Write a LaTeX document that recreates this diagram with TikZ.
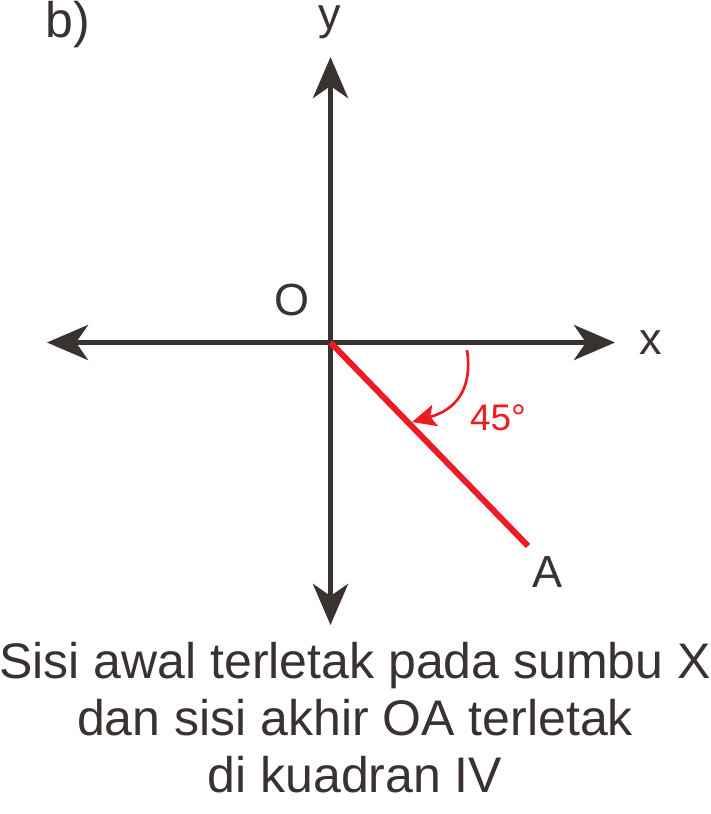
\documentclass[tikz,border=0pt]{standalone}
\usepackage{fontspec}
\setmainfont{Liberation Sans}
\usetikzlibrary{arrows.meta}
\definecolor{axisdark}{RGB}{58,50,48}
\definecolor{anglered}{RGB}{237,28,36}
\tikzset{
  axis/.style={draw=axisdark,line width=5.5pt,{Stealth[length=41pt,width=35pt,inset=12pt]}-{Stealth[length=41pt,width=35pt,inset=12pt]}},
  label/.style={text=axisdark,inner sep=0pt,font=\fontsize{45}{54}\selectfont}
}
\begin{document}
\begin{tikzpicture}[x=1pt,y=-1pt]
\useasboundingbox (0,0) rectangle (710,814);
% axes
\coordinate (O) at (330.5,342.5);
\coordinate (xl) at (47,342.5);
\coordinate (xr) at (615,342.5);
\coordinate (yt) at (330.5,57);
\coordinate (yb) at (330.5,625);
\draw[axis] (xl) -- (xr);
\draw[axis] (yb) -- (yt);
% terminal side OA
\coordinate (A) at (528,546);
\draw[anglered,line width=6pt] (O) -- (A);
\coordinate (arcstart) at (467,350);
\coordinate (arcend) at (412,422);
\draw[anglered,line width=2.7pt,-{Stealth[length=24pt,width=22pt,inset=5pt]}] (arcstart) .. controls (473,390) and (455,410) .. (arcend);
% labels
\node[label] (olabel) at (292,300) {O};
\node[label] (xlabel) at (651,343) {x};
\node[label] (ylabel) at (330,22) {y};
\node[label] (alabel) at (548,572) {A};
\node[label,text=anglered,font=\fontsize{37}{44}\selectfont] (angle) at (498,418) {45°};
\node[label,font=\fontsize{50}{60}\selectfont] (part) at (68,25) {b)};
\node[label,align=center,font=\fontsize{50}{57}\selectfont] (caption) at (355,718) {Sisi awal terletak pada sumbu X\\dan sisi akhir OA terletak\\di kuadran IV};
\end{tikzpicture}
\end{document}
